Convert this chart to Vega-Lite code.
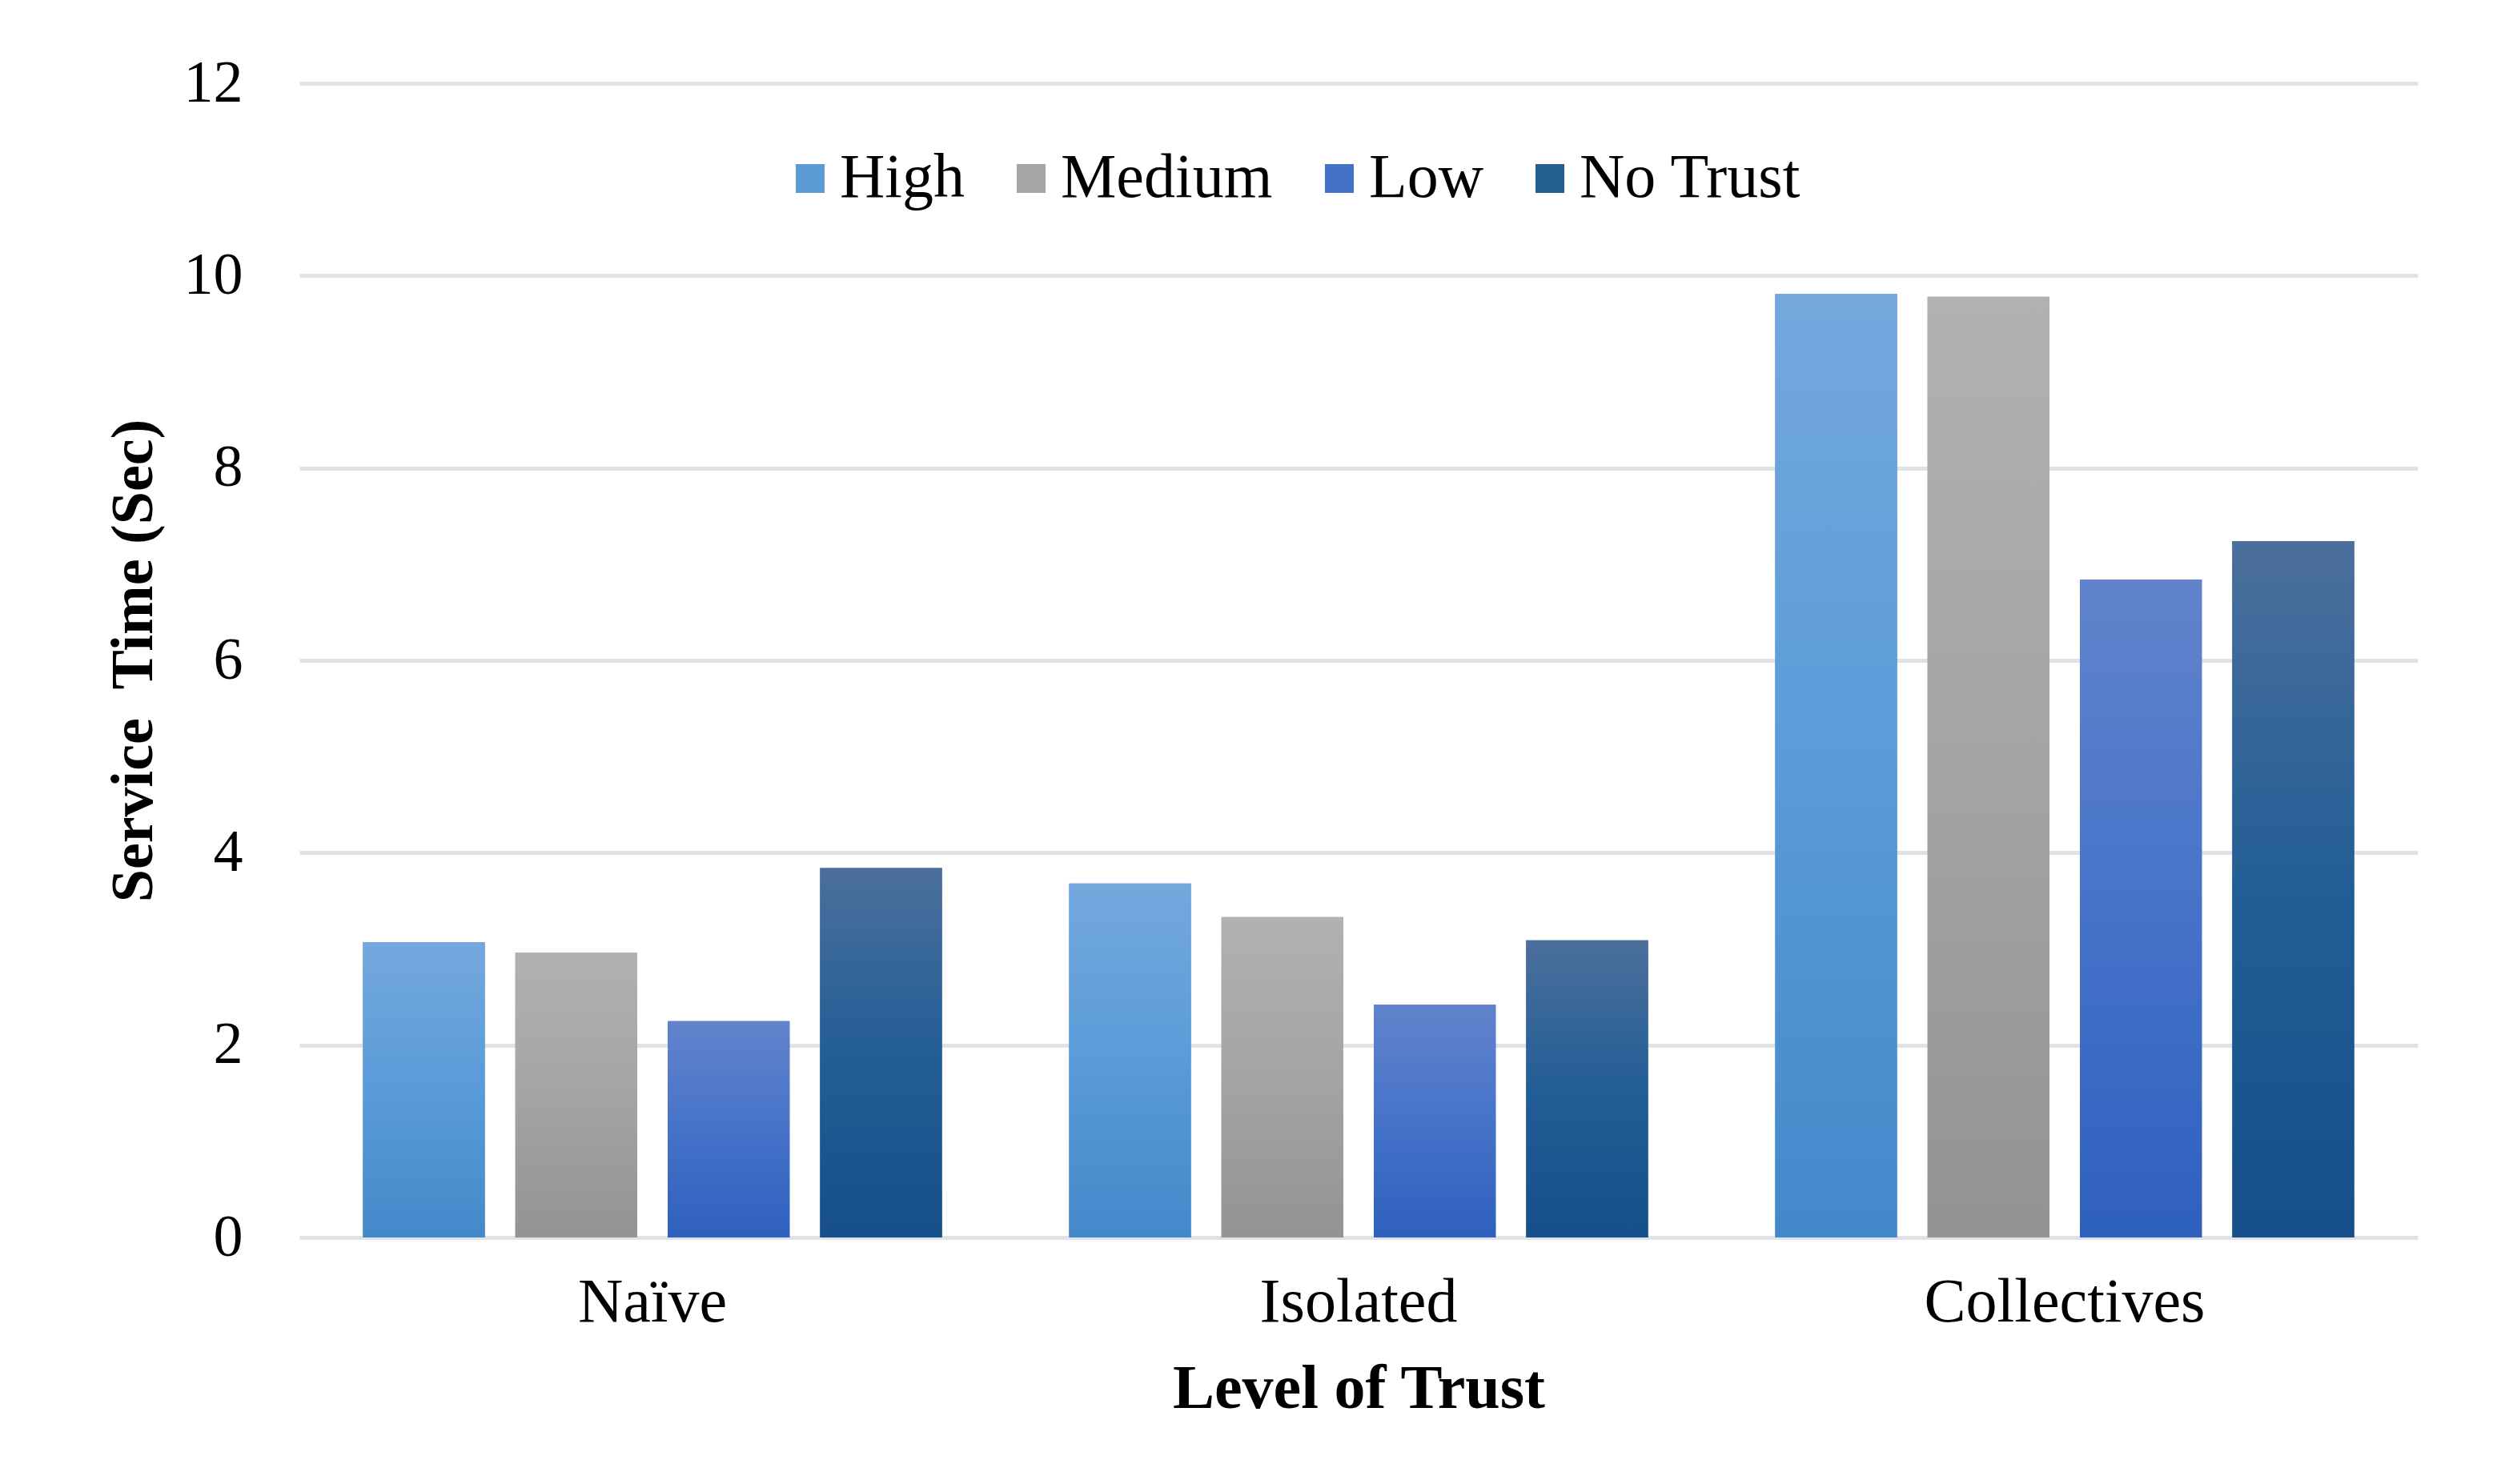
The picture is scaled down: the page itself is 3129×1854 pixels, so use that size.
{
  "$schema": "https://vega.github.io/schema/vega-lite/v6.json",
  "width": 2646,
  "height": 1442,
  "autosize": {"type": "none"},
  "padding": {"left": 374, "top": 104, "right": 109, "bottom": 308},
  "background": "white",
  "config": {
    "font": "Liberation Serif",
    "view": {"stroke": null}
  },
  "data": {
    "values": [
      {"level": "Naïve", "series": "High", "time": 3.07},
      {"level": "Naïve", "series": "Medium", "time": 2.96},
      {"level": "Naïve", "series": "Low", "time": 2.25},
      {"level": "Naïve", "series": "No Trust", "time": 3.84},
      {"level": "Isolated", "series": "High", "time": 3.68},
      {"level": "Isolated", "series": "Medium", "time": 3.33},
      {"level": "Isolated", "series": "Low", "time": 2.42},
      {"level": "Isolated", "series": "No Trust", "time": 3.09},
      {"level": "Collectives", "series": "High", "time": 9.81},
      {"level": "Collectives", "series": "Medium", "time": 9.78},
      {"level": "Collectives", "series": "Low", "time": 6.84},
      {"level": "Collectives", "series": "No Trust", "time": 7.24}
    ]
  },
  "encoding": {
    "x": {
      "field": "level",
      "type": "nominal",
      "sort": ["Naïve", "Isolated", "Collectives"],
      "scale": {"paddingInner": 0.18, "paddingOuter": 0.09},
      "title": "Level of Trust",
      "axis": {
        "labelAngle": 0,
        "labelFont": "Liberation Serif",
        "labelFontSize": 78,
        "labelColor": "black",
        "labelPadding": 42,
        "labelLimit": 0,
        "ticks": false,
        "domain": false,
        "grid": false,
        "titleFont": "Liberation Serif",
        "titleFontSize": 78,
        "titleFontWeight": "bold",
        "titleColor": "black",
        "titlePadding": 30
      }
    },
    "xOffset": {
      "field": "series",
      "type": "nominal",
      "sort": ["High", "Medium", "Low", "No Trust"],
      "scale": {"paddingInner": 0.2, "paddingOuter": 0}
    },
    "y": {
      "field": "time",
      "type": "quantitative",
      "scale": {"domain": [0, 12], "nice": false},
      "title": "Service\u00a0 Time (Sec)",
      "axis": {
        "values": [0, 2, 4, 6, 8, 10, 12],
        "labelFont": "Liberation Serif",
        "labelFontSize": 74,
        "labelColor": "black",
        "labelPadding": 71,
        "ticks": false,
        "domain": false,
        "grid": true,
        "gridColor": "#dfe3e9",
        "gridWidth": 5,
        "titleFont": "Liberation Serif",
        "titleFontSize": 74,
        "titleFontWeight": "bold",
        "titleColor": "black",
        "titlePadding": 24
      }
    }
  },
  "layer": [
    {
      "mark": {"type": "bar"},
      "encoding": {
        "color": {
          "field": "series",
          "type": "nominal",
          "scale": {
            "domain": ["High", "Medium", "Low", "No Trust"],
            "range": ["#5b9bd5", "#a5a5a5", "#4472c4", "#255e91"]
          },
          "legend": {
            "orient": "none",
            "legendX": 599,
            "legendY": 80,
            "direction": "horizontal",
            "title": null,
            "symbolType": "square",
            "symbolSize": 1300,
            "symbolStrokeWidth": 0,
            "labelFont": "Liberation Serif",
            "labelFontSize": 78,
            "labelColor": "black",
            "labelOffset": -2,
            "columnPadding": 44,
            "labelLimit": 0
          }
        }
      }
    },
    {
      "mark": {"type": "bar"},
      "encoding": {
        "fill": {
          "condition": [
            {"test": "datum.series === 'High'", "value": {"gradient": "linear", "x1": 0, "y1": 0, "x2": 0, "y2": 1, "stops": [{"offset": 0, "color": "#74a8dd"}, {"offset": 0.5, "color": "#5a9bd9"}, {"offset": 1, "color": "#4389c9"}]}},
            {"test": "datum.series === 'Medium'", "value": {"gradient": "linear", "x1": 0, "y1": 0, "x2": 0, "y2": 1, "stops": [{"offset": 0, "color": "#b1b1b1"}, {"offset": 0.5, "color": "#a4a4a4"}, {"offset": 1, "color": "#939393"}]}},
            {"test": "datum.series === 'Low'", "value": {"gradient": "linear", "x1": 0, "y1": 0, "x2": 0, "y2": 1, "stops": [{"offset": 0, "color": "#6283cc"}, {"offset": 0.5, "color": "#4673c9"}, {"offset": 1, "color": "#2e60be"}]}}
          ],
          "value": {"gradient": "linear", "x1": 0, "y1": 0, "x2": 0, "y2": 1, "stops": [{"offset": 0, "color": "#4c6f9c"}, {"offset": 0.5, "color": "#225e96"}, {"offset": 1, "color": "#164f8a"}]}
        }
      }
    }
  ]
}
